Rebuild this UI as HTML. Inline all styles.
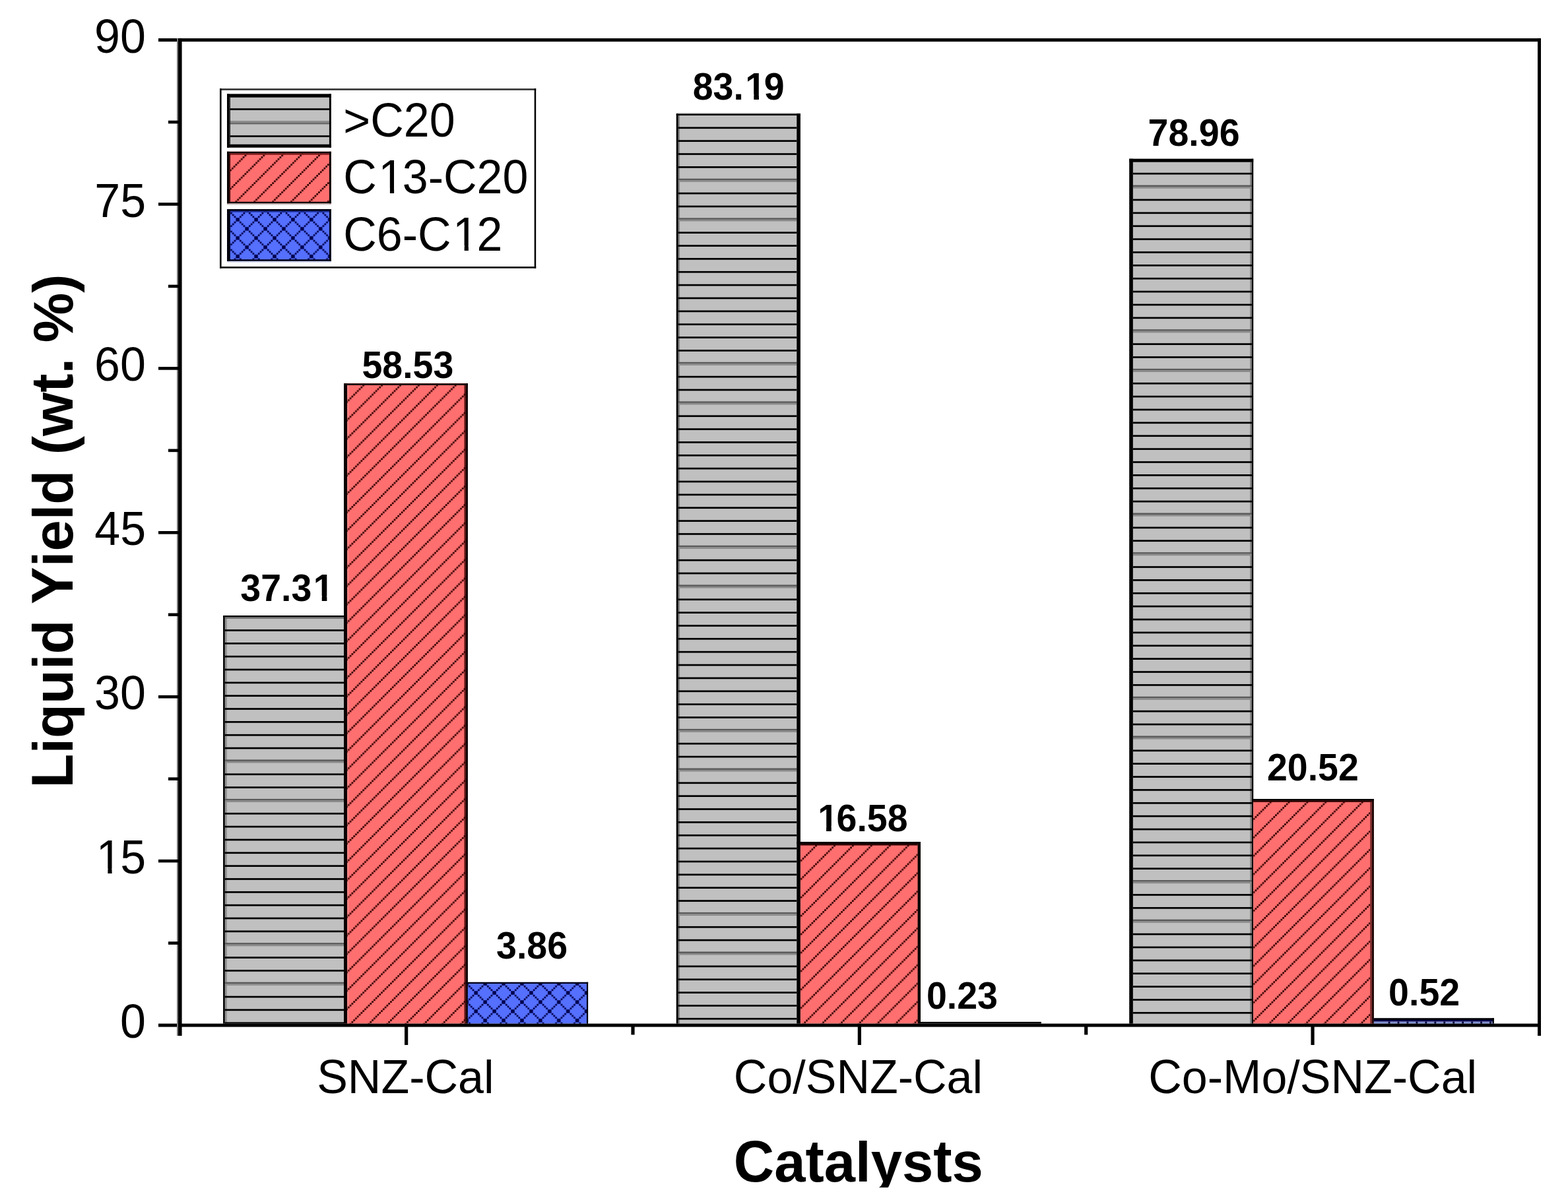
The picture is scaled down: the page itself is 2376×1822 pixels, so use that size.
<!DOCTYPE html>
<html><head><meta charset="utf-8"><title>Liquid Yield</title>
<style>
html,body{margin:0;padding:0;background:#fff;}
svg{display:block}
text{font-family:"Liberation Sans",Arial,sans-serif;fill:#000;font-kerning:none;}
</style></head><body>
<svg xmlns="http://www.w3.org/2000/svg" width="2376" height="1822" viewBox="0 0 2376 1822">
<defs><pattern id="p1" patternUnits="userSpaceOnUse" x="19.34" y="0.00" width="27.89" height="27.89"><g fill="#340000"><rect x="0.02" y="25.12" width="2.75" height="2.75"/><rect x="2.81" y="22.33" width="2.75" height="2.75"/><rect x="5.60" y="19.54" width="2.75" height="2.75"/><rect x="8.39" y="16.75" width="2.75" height="2.75"/><rect x="11.18" y="13.96" width="2.75" height="2.75"/><rect x="13.96" y="11.18" width="2.75" height="2.75"/><rect x="16.75" y="8.39" width="2.75" height="2.75"/><rect x="19.54" y="5.60" width="2.75" height="2.75"/><rect x="22.33" y="2.81" width="2.75" height="2.75"/><rect x="25.12" y="0.02" width="2.75" height="2.75"/></g></pattern><pattern id="p2" patternUnits="userSpaceOnUse" x="23.70" y="26.30" width="27.9" height="27.9"><g fill="#00004a"><rect x="0.02" y="25.13" width="2.75" height="2.75"/><rect x="0.02" y="0.02" width="2.75" height="2.75"/><rect x="2.81" y="22.34" width="2.75" height="2.75"/><rect x="2.81" y="2.81" width="2.75" height="2.75"/><rect x="5.60" y="19.55" width="2.75" height="2.75"/><rect x="5.60" y="5.60" width="2.75" height="2.75"/><rect x="8.39" y="16.76" width="2.75" height="2.75"/><rect x="8.39" y="8.39" width="2.75" height="2.75"/><rect x="11.18" y="13.97" width="2.75" height="2.75"/><rect x="11.18" y="11.18" width="2.75" height="2.75"/><rect x="13.97" y="11.18" width="2.75" height="2.75"/><rect x="13.97" y="13.97" width="2.75" height="2.75"/><rect x="16.76" y="8.39" width="2.75" height="2.75"/><rect x="16.76" y="16.76" width="2.75" height="2.75"/><rect x="19.55" y="5.60" width="2.75" height="2.75"/><rect x="19.55" y="19.55" width="2.75" height="2.75"/><rect x="22.34" y="2.81" width="2.75" height="2.75"/><rect x="22.34" y="22.34" width="2.75" height="2.75"/><rect x="25.13" y="0.02" width="2.75" height="2.75"/><rect x="25.13" y="25.13" width="2.75" height="2.75"/></g></pattern><pattern id="p3" patternUnits="userSpaceOnUse" x="7.50" y="0.00" width="27.9" height="27.9"><g fill="#340000"><rect x="0.02" y="25.13" width="2.75" height="2.75"/><rect x="2.81" y="22.34" width="2.75" height="2.75"/><rect x="5.60" y="19.55" width="2.75" height="2.75"/><rect x="8.39" y="16.76" width="2.75" height="2.75"/><rect x="11.18" y="13.97" width="2.75" height="2.75"/><rect x="13.97" y="11.18" width="2.75" height="2.75"/><rect x="16.76" y="8.39" width="2.75" height="2.75"/><rect x="19.55" y="5.60" width="2.75" height="2.75"/><rect x="22.34" y="2.81" width="2.75" height="2.75"/><rect x="25.13" y="0.02" width="2.75" height="2.75"/></g></pattern><pattern id="p4" patternUnits="userSpaceOnUse" x="0.00" y="0.00" width="27.8" height="27.8"><g fill="#340000"><rect x="0.02" y="25.04" width="2.75" height="2.75"/><rect x="2.79" y="22.26" width="2.75" height="2.75"/><rect x="5.58" y="19.48" width="2.75" height="2.75"/><rect x="8.36" y="16.70" width="2.75" height="2.75"/><rect x="11.14" y="13.91" width="2.75" height="2.75"/><rect x="13.92" y="11.13" width="2.75" height="2.75"/><rect x="16.70" y="8.36" width="2.75" height="2.75"/><rect x="19.48" y="5.57" width="2.75" height="2.75"/><rect x="22.26" y="2.79" width="2.75" height="2.75"/><rect x="25.04" y="0.01" width="2.75" height="2.75"/></g></pattern><clipPath id="t5"><path clip-rule="evenodd" d="M-3000 -3000H5000V5000H-3000ZM147.90 1316.64H163.37V1325.60H147.90ZM169.60 1316.64H183.95V1325.60H169.60Z"/></clipPath><clipPath id="t6"><path clip-rule="evenodd" d="M-3000 -3000H5000V5000H-3000ZM476.47 903.04H487.74V912.40H476.47ZM495.40 903.04H505.06V912.40H495.40Z"/></clipPath><clipPath id="t7"><path clip-rule="evenodd" d="M-3000 -3000H5000V5000H-3000ZM1131.02 142.64H1142.29V152.00H1131.02ZM1149.95 142.64H1159.60V152.00H1149.95Z"/></clipPath><clipPath id="t8"><path clip-rule="evenodd" d="M-3000 -3000H5000V5000H-3000ZM1240.83 1251.74H1252.09V1261.10H1240.83ZM1259.75 1251.74H1269.41V1261.10H1259.75Z"/></clipPath><pattern id="p9" patternUnits="userSpaceOnUse" x="21.70" y="0.00" width="27.9" height="27.9"><g fill="#340000"><rect x="0.02" y="25.13" width="2.75" height="2.75"/><rect x="2.81" y="22.34" width="2.75" height="2.75"/><rect x="5.60" y="19.55" width="2.75" height="2.75"/><rect x="8.39" y="16.76" width="2.75" height="2.75"/><rect x="11.18" y="13.97" width="2.75" height="2.75"/><rect x="13.97" y="11.18" width="2.75" height="2.75"/><rect x="16.76" y="8.39" width="2.75" height="2.75"/><rect x="19.55" y="5.60" width="2.75" height="2.75"/><rect x="22.34" y="2.81" width="2.75" height="2.75"/><rect x="25.13" y="0.02" width="2.75" height="2.75"/></g></pattern><pattern id="p10" patternUnits="userSpaceOnUse" x="25.40" y="26.00" width="27.9" height="27.9"><g fill="#00004a"><rect x="0.02" y="25.13" width="2.75" height="2.75"/><rect x="0.02" y="0.02" width="2.75" height="2.75"/><rect x="2.81" y="22.34" width="2.75" height="2.75"/><rect x="2.81" y="2.81" width="2.75" height="2.75"/><rect x="5.60" y="19.55" width="2.75" height="2.75"/><rect x="5.60" y="5.60" width="2.75" height="2.75"/><rect x="8.39" y="16.76" width="2.75" height="2.75"/><rect x="8.39" y="8.39" width="2.75" height="2.75"/><rect x="11.18" y="13.97" width="2.75" height="2.75"/><rect x="11.18" y="11.18" width="2.75" height="2.75"/><rect x="13.97" y="11.18" width="2.75" height="2.75"/><rect x="13.97" y="13.97" width="2.75" height="2.75"/><rect x="16.76" y="8.39" width="2.75" height="2.75"/><rect x="16.76" y="16.76" width="2.75" height="2.75"/><rect x="19.55" y="5.60" width="2.75" height="2.75"/><rect x="19.55" y="19.55" width="2.75" height="2.75"/><rect x="22.34" y="2.81" width="2.75" height="2.75"/><rect x="22.34" y="22.34" width="2.75" height="2.75"/><rect x="25.13" y="0.02" width="2.75" height="2.75"/><rect x="25.13" y="25.13" width="2.75" height="2.75"/></g></pattern><clipPath id="t11"><path clip-rule="evenodd" d="M-3000 -3000H5000V5000H-3000ZM575.42 285.74H590.89V294.70H575.42ZM597.12 285.74H611.47V294.70H597.12Z"/></clipPath><clipPath id="t12"><path clip-rule="evenodd" d="M-3000 -3000H5000V5000H-3000ZM688.21 372.04H703.68V381.00H688.21ZM709.91 372.04H724.26V381.00H709.91Z"/></clipPath></defs>
<rect width="2376" height="1822" fill="#fff"/>
<rect x="338.1" y="933" width="185.4" height="618.6" fill="#c0c0c0"/><rect x="340.7" y="935.1" width="3.1" height="616.5" fill="#909090"/><rect x="340.7" y="935.1" width="180.3" height="2.7" fill="#6a6a6a"/><rect x="340.7" y="954.15" width="180.3" height="2.7" fill="#000"/><rect x="340.7" y="973.99" width="180.3" height="2.7" fill="#000"/><rect x="340.7" y="993.83" width="180.3" height="2.7" fill="#000"/><rect x="340.7" y="1013.67" width="180.3" height="2.7" fill="#000"/><rect x="340.7" y="1033.51" width="180.3" height="2.7" fill="#000"/><rect x="340.7" y="1053.35" width="180.3" height="2.7" fill="#000"/><rect x="340.7" y="1073.19" width="180.3" height="2.7" fill="#000"/><rect x="340.7" y="1093.03" width="180.3" height="2.7" fill="#000"/><rect x="340.7" y="1112.87" width="180.3" height="2.7" fill="#000"/><rect x="340.7" y="1132.71" width="180.3" height="2.7" fill="#000"/><rect x="340.7" y="1151.4" width="180.3" height="2.5" fill="#5a5a5a"/><rect x="340.7" y="1153.9" width="180.3" height="2.6" fill="#8a8a8a"/><rect x="340.7" y="1172.39" width="180.3" height="2.7" fill="#000"/><rect x="340.7" y="1192.23" width="180.3" height="2.7" fill="#000"/><rect x="340.7" y="1210.92" width="180.3" height="2.5" fill="#5a5a5a"/><rect x="340.7" y="1213.42" width="180.3" height="2.6" fill="#8a8a8a"/><rect x="340.7" y="1231.91" width="180.3" height="2.7" fill="#000"/><rect x="340.7" y="1251.75" width="180.3" height="2.7" fill="#000"/><rect x="340.7" y="1271.59" width="180.3" height="2.7" fill="#000"/><rect x="340.7" y="1291.43" width="180.3" height="2.7" fill="#000"/><rect x="340.7" y="1311.27" width="180.3" height="2.7" fill="#000"/><rect x="340.7" y="1331.11" width="180.3" height="2.7" fill="#000"/><rect x="340.7" y="1350.95" width="180.3" height="2.7" fill="#000"/><rect x="340.7" y="1370.79" width="180.3" height="2.7" fill="#000"/><rect x="340.7" y="1390.63" width="180.3" height="2.7" fill="#000"/><rect x="340.7" y="1410.47" width="180.3" height="2.7" fill="#000"/><rect x="340.7" y="1429.16" width="180.3" height="2.5" fill="#5a5a5a"/><rect x="340.7" y="1431.66" width="180.3" height="2.6" fill="#8a8a8a"/><rect x="340.7" y="1450.15" width="180.3" height="2.7" fill="#000"/><rect x="340.7" y="1469.99" width="180.3" height="2.7" fill="#000"/><rect x="340.7" y="1488.68" width="180.3" height="2.5" fill="#5a5a5a"/><rect x="340.7" y="1491.18" width="180.3" height="2.6" fill="#8a8a8a"/><rect x="340.7" y="1509.67" width="180.3" height="2.7" fill="#000"/><rect x="340.7" y="1529.51" width="180.3" height="2.7" fill="#000"/><rect x="340.7" y="1549.35" width="180.3" height="2.25" fill="#000"/><rect x="338.1" y="933" width="2.6" height="618.6" fill="#000"/><rect x="338.1" y="933" width="182.9" height="2.1" fill="#000"/><rect x="521" y="581.2" width="187.9" height="970.4" fill="#ff6f6f"/><rect x="526" y="583.9" width="2.6" height="967.7" fill="#f48585"/><rect x="703.5" y="583.9" width="2.7" height="967.7" fill="#5a1414"/><rect x="526" y="583.9" width="180.2" height="967.7" fill="url(#p1)"/><rect x="521" y="581.2" width="5" height="970.4" fill="#0c0000"/><rect x="521" y="581.2" width="187.9" height="2.7" fill="#120000"/><rect x="706.2" y="581.2" width="2.7" height="970.4" fill="#000"/><rect x="708.9" y="1488.8" width="182.2" height="62.8" fill="#5570ff"/><rect x="708.9" y="1491" width="180.1" height="60.6" fill="url(#p2)"/><rect x="706.2" y="1488.8" width="184.9" height="2.2" fill="#000010"/><rect x="889" y="1488.8" width="2.1" height="62.8" fill="#000"/><rect x="1024.8" y="170.6" width="188.1" height="1.8" fill="#dadada"/><rect x="1024.8" y="172.4" width="188.1" height="1379.2" fill="#c0c0c0"/><rect x="1027.6" y="175" width="2.2" height="1376.6" fill="#7a7a7a"/><rect x="1027.6" y="192.45" width="179.7" height="2.7" fill="#000"/><rect x="1027.6" y="212.31" width="179.7" height="2.7" fill="#000"/><rect x="1027.6" y="232.17" width="179.7" height="2.7" fill="#000"/><rect x="1027.6" y="252.03" width="179.7" height="2.7" fill="#000"/><rect x="1027.6" y="270.74" width="179.7" height="2.5" fill="#5a5a5a"/><rect x="1027.6" y="273.24" width="179.7" height="2.6" fill="#8a8a8a"/><rect x="1027.6" y="291.75" width="179.7" height="2.7" fill="#000"/><rect x="1027.6" y="311.61" width="179.7" height="2.7" fill="#000"/><rect x="1027.6" y="330.32" width="179.7" height="2.5" fill="#5a5a5a"/><rect x="1027.6" y="332.82" width="179.7" height="2.6" fill="#8a8a8a"/><rect x="1027.6" y="351.33" width="179.7" height="2.7" fill="#000"/><rect x="1027.6" y="371.19" width="179.7" height="2.7" fill="#000"/><rect x="1027.6" y="391.05" width="179.7" height="2.7" fill="#000"/><rect x="1027.6" y="410.91" width="179.7" height="2.7" fill="#000"/><rect x="1027.6" y="430.77" width="179.7" height="2.7" fill="#000"/><rect x="1027.6" y="450.63" width="179.7" height="2.7" fill="#000"/><rect x="1027.6" y="470.49" width="179.7" height="2.7" fill="#000"/><rect x="1027.6" y="490.35" width="179.7" height="2.7" fill="#000"/><rect x="1027.6" y="510.21" width="179.7" height="2.7" fill="#000"/><rect x="1027.6" y="530.07" width="179.7" height="2.7" fill="#000"/><rect x="1027.6" y="548.78" width="179.7" height="2.5" fill="#5a5a5a"/><rect x="1027.6" y="551.28" width="179.7" height="2.6" fill="#8a8a8a"/><rect x="1027.6" y="569.79" width="179.7" height="2.7" fill="#000"/><rect x="1027.6" y="589.65" width="179.7" height="2.7" fill="#000"/><rect x="1027.6" y="608.36" width="179.7" height="2.5" fill="#5a5a5a"/><rect x="1027.6" y="610.86" width="179.7" height="2.6" fill="#8a8a8a"/><rect x="1027.6" y="629.37" width="179.7" height="2.7" fill="#000"/><rect x="1027.6" y="649.23" width="179.7" height="2.7" fill="#000"/><rect x="1027.6" y="669.09" width="179.7" height="2.7" fill="#000"/><rect x="1027.6" y="688.95" width="179.7" height="2.7" fill="#000"/><rect x="1027.6" y="708.81" width="179.7" height="2.7" fill="#000"/><rect x="1027.6" y="728.67" width="179.7" height="2.7" fill="#000"/><rect x="1027.6" y="748.53" width="179.7" height="2.7" fill="#000"/><rect x="1027.6" y="768.39" width="179.7" height="2.7" fill="#000"/><rect x="1027.6" y="788.25" width="179.7" height="2.7" fill="#000"/><rect x="1027.6" y="808.11" width="179.7" height="2.7" fill="#000"/><rect x="1027.6" y="826.82" width="179.7" height="2.5" fill="#5a5a5a"/><rect x="1027.6" y="829.32" width="179.7" height="2.6" fill="#8a8a8a"/><rect x="1027.6" y="847.83" width="179.7" height="2.7" fill="#000"/><rect x="1027.6" y="867.69" width="179.7" height="2.7" fill="#000"/><rect x="1027.6" y="886.4" width="179.7" height="2.5" fill="#5a5a5a"/><rect x="1027.6" y="888.9" width="179.7" height="2.6" fill="#8a8a8a"/><rect x="1027.6" y="907.41" width="179.7" height="2.7" fill="#000"/><rect x="1027.6" y="927.27" width="179.7" height="2.7" fill="#000"/><rect x="1027.6" y="947.13" width="179.7" height="2.7" fill="#000"/><rect x="1027.6" y="966.99" width="179.7" height="2.7" fill="#000"/><rect x="1027.6" y="986.85" width="179.7" height="2.7" fill="#000"/><rect x="1027.6" y="1006.71" width="179.7" height="2.7" fill="#000"/><rect x="1027.6" y="1026.57" width="179.7" height="2.7" fill="#000"/><rect x="1027.6" y="1046.43" width="179.7" height="2.7" fill="#000"/><rect x="1027.6" y="1066.29" width="179.7" height="2.7" fill="#000"/><rect x="1027.6" y="1086.15" width="179.7" height="2.7" fill="#000"/><rect x="1027.6" y="1104.86" width="179.7" height="2.5" fill="#5a5a5a"/><rect x="1027.6" y="1107.36" width="179.7" height="2.6" fill="#8a8a8a"/><rect x="1027.6" y="1125.87" width="179.7" height="2.7" fill="#000"/><rect x="1027.6" y="1145.73" width="179.7" height="2.7" fill="#000"/><rect x="1027.6" y="1164.44" width="179.7" height="2.5" fill="#5a5a5a"/><rect x="1027.6" y="1166.94" width="179.7" height="2.6" fill="#8a8a8a"/><rect x="1027.6" y="1185.45" width="179.7" height="2.7" fill="#000"/><rect x="1027.6" y="1205.31" width="179.7" height="2.7" fill="#000"/><rect x="1027.6" y="1225.17" width="179.7" height="2.7" fill="#000"/><rect x="1027.6" y="1245.03" width="179.7" height="2.7" fill="#000"/><rect x="1027.6" y="1264.89" width="179.7" height="2.7" fill="#000"/><rect x="1027.6" y="1284.75" width="179.7" height="2.7" fill="#000"/><rect x="1027.6" y="1304.61" width="179.7" height="2.7" fill="#000"/><rect x="1027.6" y="1324.47" width="179.7" height="2.7" fill="#000"/><rect x="1027.6" y="1344.33" width="179.7" height="2.7" fill="#000"/><rect x="1027.6" y="1364.19" width="179.7" height="2.7" fill="#000"/><rect x="1027.6" y="1382.9" width="179.7" height="2.5" fill="#5a5a5a"/><rect x="1027.6" y="1385.4" width="179.7" height="2.6" fill="#8a8a8a"/><rect x="1027.6" y="1403.91" width="179.7" height="2.7" fill="#000"/><rect x="1027.6" y="1423.77" width="179.7" height="2.7" fill="#000"/><rect x="1027.6" y="1442.48" width="179.7" height="2.5" fill="#5a5a5a"/><rect x="1027.6" y="1444.98" width="179.7" height="2.6" fill="#8a8a8a"/><rect x="1027.6" y="1463.49" width="179.7" height="2.7" fill="#000"/><rect x="1027.6" y="1483.35" width="179.7" height="2.7" fill="#000"/><rect x="1027.6" y="1503.21" width="179.7" height="2.7" fill="#000"/><rect x="1027.6" y="1523.07" width="179.7" height="2.7" fill="#000"/><rect x="1027.6" y="1542.93" width="179.7" height="2.7" fill="#000"/><rect x="1024.8" y="172.4" width="2.8" height="1379.2" fill="#000"/><rect x="1024.8" y="172.4" width="188.1" height="2.6" fill="#000"/><rect x="1207.3" y="172.4" width="5.6" height="1379.2" fill="#000"/><rect x="1212.9" y="1276" width="182.1" height="275.6" fill="#ff6f6f"/><rect x="1212.9" y="1279" width="177.7" height="272.6" fill="url(#p3)"/><rect x="1212.9" y="1279" width="177.7" height="2.5" fill="#2a0000"/><rect x="1207.3" y="1276" width="187.7" height="3" fill="#080000"/><rect x="1390.6" y="1276" width="4.4" height="275.6" fill="#060000"/><rect x="1395" y="1548.9" width="182.8" height="2.7" fill="#000"/><rect x="1711.2" y="240.7" width="188" height="1310.9" fill="#c0c0c0"/><rect x="1894.2" y="245.7" width="2.7" height="1305.9" fill="#808080"/><rect x="1716.8" y="261.85" width="180.1" height="2.7" fill="#000"/><rect x="1716.8" y="280.58" width="180.1" height="2.5" fill="#5a5a5a"/><rect x="1716.8" y="283.08" width="180.1" height="2.6" fill="#8a8a8a"/><rect x="1716.8" y="301.6" width="180.1" height="2.7" fill="#000"/><rect x="1716.8" y="321.48" width="180.1" height="2.7" fill="#000"/><rect x="1716.8" y="341.36" width="180.1" height="2.7" fill="#000"/><rect x="1716.8" y="361.24" width="180.1" height="2.7" fill="#000"/><rect x="1716.8" y="381.11" width="180.1" height="2.7" fill="#000"/><rect x="1716.8" y="400.99" width="180.1" height="2.7" fill="#000"/><rect x="1716.8" y="420.87" width="180.1" height="2.7" fill="#000"/><rect x="1716.8" y="440.74" width="180.1" height="2.7" fill="#000"/><rect x="1716.8" y="460.62" width="180.1" height="2.7" fill="#000"/><rect x="1716.8" y="480.5" width="180.1" height="2.7" fill="#000"/><rect x="1716.8" y="499.22" width="180.1" height="2.5" fill="#5a5a5a"/><rect x="1716.8" y="501.72" width="180.1" height="2.6" fill="#8a8a8a"/><rect x="1716.8" y="520.25" width="180.1" height="2.7" fill="#000"/><rect x="1716.8" y="540.13" width="180.1" height="2.7" fill="#000"/><rect x="1716.8" y="558.86" width="180.1" height="2.5" fill="#5a5a5a"/><rect x="1716.8" y="561.36" width="180.1" height="2.6" fill="#8a8a8a"/><rect x="1716.8" y="579.88" width="180.1" height="2.7" fill="#000"/><rect x="1716.8" y="599.76" width="180.1" height="2.7" fill="#000"/><rect x="1716.8" y="619.64" width="180.1" height="2.7" fill="#000"/><rect x="1716.8" y="639.51" width="180.1" height="2.7" fill="#000"/><rect x="1716.8" y="659.39" width="180.1" height="2.7" fill="#000"/><rect x="1716.8" y="679.27" width="180.1" height="2.7" fill="#000"/><rect x="1716.8" y="699.14" width="180.1" height="2.7" fill="#000"/><rect x="1716.8" y="719.02" width="180.1" height="2.7" fill="#000"/><rect x="1716.8" y="738.9" width="180.1" height="2.7" fill="#000"/><rect x="1716.8" y="758.77" width="180.1" height="2.7" fill="#000"/><rect x="1716.8" y="777.5" width="180.1" height="2.5" fill="#5a5a5a"/><rect x="1716.8" y="780" width="180.1" height="2.6" fill="#8a8a8a"/><rect x="1716.8" y="798.53" width="180.1" height="2.7" fill="#000"/><rect x="1716.8" y="818.41" width="180.1" height="2.7" fill="#000"/><rect x="1716.8" y="837.13" width="180.1" height="2.5" fill="#5a5a5a"/><rect x="1716.8" y="839.63" width="180.1" height="2.6" fill="#8a8a8a"/><rect x="1716.8" y="858.16" width="180.1" height="2.7" fill="#000"/><rect x="1716.8" y="878.04" width="180.1" height="2.7" fill="#000"/><rect x="1716.8" y="897.91" width="180.1" height="2.7" fill="#000"/><rect x="1716.8" y="917.79" width="180.1" height="2.7" fill="#000"/><rect x="1716.8" y="937.67" width="180.1" height="2.7" fill="#000"/><rect x="1716.8" y="957.54" width="180.1" height="2.7" fill="#000"/><rect x="1716.8" y="977.42" width="180.1" height="2.7" fill="#000"/><rect x="1716.8" y="997.3" width="180.1" height="2.7" fill="#000"/><rect x="1716.8" y="1017.18" width="180.1" height="2.7" fill="#000"/><rect x="1716.8" y="1037.05" width="180.1" height="2.7" fill="#000"/><rect x="1716.8" y="1055.78" width="180.1" height="2.5" fill="#5a5a5a"/><rect x="1716.8" y="1058.28" width="180.1" height="2.6" fill="#8a8a8a"/><rect x="1716.8" y="1076.81" width="180.1" height="2.7" fill="#000"/><rect x="1716.8" y="1096.68" width="180.1" height="2.7" fill="#000"/><rect x="1716.8" y="1115.41" width="180.1" height="2.5" fill="#5a5a5a"/><rect x="1716.8" y="1117.91" width="180.1" height="2.6" fill="#8a8a8a"/><rect x="1716.8" y="1136.44" width="180.1" height="2.7" fill="#000"/><rect x="1716.8" y="1156.31" width="180.1" height="2.7" fill="#000"/><rect x="1716.8" y="1176.19" width="180.1" height="2.7" fill="#000"/><rect x="1716.8" y="1196.07" width="180.1" height="2.7" fill="#000"/><rect x="1716.8" y="1215.95" width="180.1" height="2.7" fill="#000"/><rect x="1716.8" y="1235.82" width="180.1" height="2.7" fill="#000"/><rect x="1716.8" y="1255.7" width="180.1" height="2.7" fill="#000"/><rect x="1716.8" y="1275.58" width="180.1" height="2.7" fill="#000"/><rect x="1716.8" y="1295.45" width="180.1" height="2.7" fill="#000"/><rect x="1716.8" y="1315.33" width="180.1" height="2.7" fill="#000"/><rect x="1716.8" y="1334.06" width="180.1" height="2.5" fill="#5a5a5a"/><rect x="1716.8" y="1336.56" width="180.1" height="2.6" fill="#8a8a8a"/><rect x="1716.8" y="1355.08" width="180.1" height="2.7" fill="#000"/><rect x="1716.8" y="1374.96" width="180.1" height="2.7" fill="#000"/><rect x="1716.8" y="1393.69" width="180.1" height="2.5" fill="#5a5a5a"/><rect x="1716.8" y="1396.19" width="180.1" height="2.6" fill="#8a8a8a"/><rect x="1716.8" y="1414.72" width="180.1" height="2.7" fill="#000"/><rect x="1716.8" y="1434.59" width="180.1" height="2.7" fill="#000"/><rect x="1716.8" y="1454.47" width="180.1" height="2.7" fill="#000"/><rect x="1716.8" y="1474.35" width="180.1" height="2.7" fill="#000"/><rect x="1716.8" y="1494.22" width="180.1" height="2.7" fill="#000"/><rect x="1716.8" y="1514.1" width="180.1" height="2.7" fill="#000"/><rect x="1716.8" y="1533.98" width="180.1" height="2.7" fill="#000"/><rect x="1711.2" y="240.7" width="5.6" height="1310.9" fill="#000"/><rect x="1711.2" y="240.7" width="188" height="5" fill="#000"/><rect x="1896.9" y="240.7" width="2.3" height="1310.9" fill="#000"/><rect x="1899.2" y="1211" width="182.6" height="340.6" fill="#ff6f6f"/><rect x="2076.2" y="1215.8" width="3" height="335.8" fill="#7a2c2c"/><rect x="1899.2" y="1213.8" width="177" height="337.8" fill="url(#p4)"/><rect x="1899.2" y="1213.8" width="180" height="2" fill="#2a0000"/><rect x="1896.9" y="1211" width="184.9" height="2.8" fill="#060000"/><rect x="2079.2" y="1211" width="2.6" height="340.6" fill="#0a0000"/><rect x="2081.8" y="1548.5" width="182" height="3.1" fill="#7f8fd2"/><rect x="2103.7" y="1548.5" width="2.7" height="3.1" fill="#000030"/><rect x="2117.65" y="1548.5" width="2.7" height="3.1" fill="#000030"/><rect x="2131.6" y="1548.5" width="2.7" height="3.1" fill="#000030"/><rect x="2145.55" y="1548.5" width="2.7" height="3.1" fill="#000030"/><rect x="2159.5" y="1548.5" width="2.7" height="3.1" fill="#000030"/><rect x="2173.45" y="1548.5" width="2.7" height="3.1" fill="#000030"/><rect x="2187.4" y="1548.5" width="2.7" height="3.1" fill="#000030"/><rect x="2201.35" y="1548.5" width="2.7" height="3.1" fill="#000030"/><rect x="2215.3" y="1548.5" width="2.7" height="3.1" fill="#000030"/><rect x="2229.25" y="1548.5" width="2.7" height="3.1" fill="#000030"/><rect x="2243.2" y="1548.5" width="2.7" height="3.1" fill="#000030"/><rect x="2257.15" y="1548.5" width="2.7" height="3.1" fill="#000030"/><rect x="2081.8" y="1546" width="182" height="2.5" fill="#00004a"/><rect x="2081.8" y="1543.2" width="182" height="2.8" fill="#000008"/><rect x="2261.6" y="1543.2" width="2.2" height="8.4" fill="#000"/>
<g fill="#000"><rect x="240" y="58.1" width="2095" height="5"/><rect x="240" y="1551.6" width="2095" height="5"/><rect x="270" y="58.1" width="5.6" height="1512"/><rect x="268" y="58.1" width="2" height="1512" fill="#7a7a7a"/><rect x="2330" y="58.1" width="5" height="1512"/><rect x="240" y="1302.8" width="32" height="4.6"/><rect x="240" y="1053.9" width="32" height="4.6"/><rect x="240" y="805" width="32" height="4.6"/><rect x="240" y="556.1" width="32" height="4.6"/><rect x="240" y="307.2" width="32" height="4.6"/><rect x="255" y="1427.25" width="17" height="4.6"/><rect x="255" y="1178.35" width="17" height="4.6"/><rect x="255" y="929.45" width="17" height="4.6"/><rect x="255" y="680.55" width="17" height="4.6"/><rect x="255" y="431.65" width="17" height="4.6"/><rect x="255" y="182.75" width="17" height="4.6"/><rect x="255" y="-66.15" width="17" height="4.6"/><rect x="255" y="-315.05" width="17" height="4.6"/><rect x="255" y="-563.95" width="17" height="4.6"/><rect x="255" y="-812.85" width="17" height="4.6"/><rect x="255" y="-1061.75" width="17" height="4.6"/><rect x="255" y="-1310.65" width="17" height="4.6"/><rect x="613.05" y="1554" width="5.2" height="30"/><rect x="956.4" y="1554" width="5.2" height="14.5"/><rect x="1299.75" y="1554" width="5.2" height="30"/><rect x="1643.1" y="1554" width="5.2" height="14.5"/><rect x="1986.45" y="1554" width="5.2" height="30"/></g>
<rect x="333" y="134.2" width="479.2" height="272.5" fill="#fff"/><rect x="333" y="134.2" width="479.2" height="2.6" fill="#303030"/><rect x="333" y="404.1" width="479.2" height="2.6" fill="#000"/><rect x="333" y="134.2" width="2.6" height="272.5" fill="#000"/><rect x="809.7" y="134.2" width="2.5" height="272.5" fill="#000"/><rect x="344" y="142.4" width="157.8" height="81.3" fill="#c0c0c0"/><rect x="347.3" y="164.2" width="151.6" height="2.8" fill="#000"/><rect x="347.3" y="183.1" width="151.6" height="2.7" fill="#8a8a8a"/><rect x="347.3" y="185.8" width="151.6" height="2.6" fill="#6a6a6a"/><rect x="347.3" y="205.2" width="151.6" height="2.6" fill="#000"/><rect x="344" y="142.4" width="157.8" height="5.3" fill="#000"/><rect x="344" y="218.8" width="157.8" height="4.9" fill="#000"/><rect x="344" y="142.4" width="3.3" height="81.3" fill="#000"/><rect x="347.3" y="147.7" width="1.7" height="71.1" fill="#1c1c1c"/><rect x="498.9" y="142.4" width="2.9" height="81.3" fill="#000"/><rect x="344" y="229.8" width="157.8" height="78.5" fill="#ff6f6f"/><rect x="344" y="308.3" width="157.8" height="2.4" fill="#d4caca"/><rect x="349" y="232.3" width="149.9" height="73.5" fill="url(#p9)"/><rect x="349" y="232.3" width="149.9" height="2.4" fill="#7a1a1a"/><rect x="344" y="229.8" width="157.8" height="2.5" fill="#0a0000"/><rect x="344" y="305.8" width="157.8" height="2.5" fill="#120000"/><rect x="344" y="229.8" width="3.3" height="78.5" fill="#060000"/><rect x="347.3" y="232.3" width="1.7" height="73.5" fill="#2a0000"/><rect x="498.9" y="229.8" width="2.9" height="78.5" fill="#0a0000"/><rect x="344" y="317" width="157.8" height="78.8" fill="#5570ff"/><rect x="344" y="395.8" width="157.8" height="2.5" fill="#d8dcf0"/><rect x="348.8" y="319.7" width="150.1" height="73.5" fill="url(#p10)"/><rect x="348.8" y="319.7" width="150.1" height="1.9" fill="#1a2a90"/><rect x="344" y="317" width="157.8" height="2.7" fill="#000010"/><rect x="344" y="393.2" width="157.8" height="2.6" fill="#000018"/><rect x="344" y="317" width="4.8" height="78.8" fill="#00000c"/><rect x="498.9" y="317" width="2.9" height="78.8" fill="#000010"/><text x="520.35 561.23 611.78 650.71" y="207.20" font-size="70" font-weight="normal">&gt;<tspan font-size="72.80" textLength="50.55" lengthAdjust="spacingAndGlyphs">C</tspan><tspan font-size="72.80" textLength="38.93" lengthAdjust="spacingAndGlyphs">2</tspan><tspan font-size="72.80" textLength="38.93" lengthAdjust="spacingAndGlyphs">0</tspan></text><text x="520.25 573.32 609.73 648.66 671.97 722.52 761.45" y="293.20" font-size="70" font-weight="normal" clip-path="url(#t11)"><tspan font-size="72.80" textLength="50.55" lengthAdjust="spacingAndGlyphs">C</tspan><tspan font-size="72.80" textLength="38.93" lengthAdjust="spacingAndGlyphs">1</tspan><tspan font-size="72.80" textLength="38.93" lengthAdjust="spacingAndGlyphs">3</tspan>-<tspan font-size="72.80" textLength="50.55" lengthAdjust="spacingAndGlyphs">C</tspan><tspan font-size="72.80" textLength="38.93" lengthAdjust="spacingAndGlyphs">2</tspan><tspan font-size="72.80" textLength="38.93" lengthAdjust="spacingAndGlyphs">0</tspan></text><text x="520.25 570.80 609.73 633.04 686.11 722.52" y="379.50" font-size="70" font-weight="normal" clip-path="url(#t12)"><tspan font-size="72.80" textLength="50.55" lengthAdjust="spacingAndGlyphs">C</tspan><tspan font-size="72.80" textLength="38.93" lengthAdjust="spacingAndGlyphs">6</tspan>-<tspan font-size="72.80" textLength="50.55" lengthAdjust="spacingAndGlyphs">C</tspan><tspan font-size="72.80" textLength="38.93" lengthAdjust="spacingAndGlyphs">1</tspan><tspan font-size="72.80" textLength="38.93" lengthAdjust="spacingAndGlyphs">2</tspan></text>
<text x="182.00" y="1573.00" font-size="70" font-weight="normal"><tspan font-size="72.80" textLength="38.93" lengthAdjust="spacingAndGlyphs">0</tspan></text><text x="145.80 182.21" y="1324.10" font-size="70" font-weight="normal" clip-path="url(#t5)"><tspan font-size="72.80" textLength="38.93" lengthAdjust="spacingAndGlyphs">1</tspan><tspan font-size="72.80" textLength="38.93" lengthAdjust="spacingAndGlyphs">5</tspan></text><text x="143.07 182.00" y="1075.20" font-size="70" font-weight="normal"><tspan font-size="72.80" textLength="38.93" lengthAdjust="spacingAndGlyphs">3</tspan><tspan font-size="72.80" textLength="38.93" lengthAdjust="spacingAndGlyphs">0</tspan></text><text x="143.28 182.21" y="826.30" font-size="70" font-weight="normal"><tspan font-size="72.80" textLength="38.93" lengthAdjust="spacingAndGlyphs">4</tspan><tspan font-size="72.80" textLength="38.93" lengthAdjust="spacingAndGlyphs">5</tspan></text><text x="143.07 182.00" y="577.40" font-size="70" font-weight="normal"><tspan font-size="72.80" textLength="38.93" lengthAdjust="spacingAndGlyphs">6</tspan><tspan font-size="72.80" textLength="38.93" lengthAdjust="spacingAndGlyphs">0</tspan></text><text x="143.28 182.21" y="328.50" font-size="70" font-weight="normal"><tspan font-size="72.80" textLength="38.93" lengthAdjust="spacingAndGlyphs">7</tspan><tspan font-size="72.80" textLength="38.93" lengthAdjust="spacingAndGlyphs">5</tspan></text><text x="143.07 182.00" y="79.60" font-size="70" font-weight="normal"><tspan font-size="72.80" textLength="38.93" lengthAdjust="spacingAndGlyphs">9</tspan><tspan font-size="72.80" textLength="38.93" lengthAdjust="spacingAndGlyphs">0</tspan></text><text x="480.18 526.87 577.42 620.18 643.49 694.04 732.97" y="1657.30" font-size="70" font-weight="normal"><tspan font-size="72.80" textLength="46.69" lengthAdjust="spacingAndGlyphs">S</tspan><tspan font-size="72.80" textLength="50.55" lengthAdjust="spacingAndGlyphs">N</tspan><tspan font-size="72.80" textLength="42.76" lengthAdjust="spacingAndGlyphs">Z</tspan>-<tspan font-size="72.80" textLength="50.55" lengthAdjust="spacingAndGlyphs">C</tspan>al</text><text x="1111.83 1162.38 1201.31 1220.76 1267.45 1318.00 1360.76 1384.07 1434.62 1473.55" y="1657.30" font-size="70" font-weight="normal"><tspan font-size="72.80" textLength="50.55" lengthAdjust="spacingAndGlyphs">C</tspan>o/<tspan font-size="72.80" textLength="46.69" lengthAdjust="spacingAndGlyphs">S</tspan><tspan font-size="72.80" textLength="50.55" lengthAdjust="spacingAndGlyphs">N</tspan><tspan font-size="72.80" textLength="42.76" lengthAdjust="spacingAndGlyphs">Z</tspan>-<tspan font-size="72.80" textLength="50.55" lengthAdjust="spacingAndGlyphs">C</tspan>al</text><text x="1740.30 1790.85 1829.78 1853.09 1911.40 1950.33 1969.78 2016.47 2067.02 2109.78 2133.09 2183.65 2222.58" y="1657.30" font-size="70" font-weight="normal"><tspan font-size="72.80" textLength="50.55" lengthAdjust="spacingAndGlyphs">C</tspan>o-<tspan font-size="72.80" textLength="58.31" lengthAdjust="spacingAndGlyphs">M</tspan>o/<tspan font-size="72.80" textLength="46.69" lengthAdjust="spacingAndGlyphs">S</tspan><tspan font-size="72.80" textLength="50.55" lengthAdjust="spacingAndGlyphs">N</tspan><tspan font-size="72.80" textLength="42.76" lengthAdjust="spacingAndGlyphs">Z</tspan>-<tspan font-size="72.80" textLength="50.55" lengthAdjust="spacingAndGlyphs">C</tspan>al</text><text x="364.29 395.16 426.03 441.45 474.81" y="910.90" font-size="55.5" font-weight="bold" clip-path="url(#t6)"><tspan font-size="57.44" textLength="30.87" lengthAdjust="spacingAndGlyphs">3</tspan><tspan font-size="57.44" textLength="30.87" lengthAdjust="spacingAndGlyphs">7</tspan>.<tspan font-size="57.44" textLength="30.87" lengthAdjust="spacingAndGlyphs">3</tspan><tspan font-size="57.44" textLength="30.87" lengthAdjust="spacingAndGlyphs">1</tspan></text><text x="548.41 579.27 610.14 625.56 656.43" y="572.80" font-size="55.5" font-weight="bold"><tspan font-size="57.44" textLength="30.87" lengthAdjust="spacingAndGlyphs">5</tspan><tspan font-size="57.44" textLength="30.87" lengthAdjust="spacingAndGlyphs">8</tspan>.<tspan font-size="57.44" textLength="30.87" lengthAdjust="spacingAndGlyphs">5</tspan><tspan font-size="57.44" textLength="30.87" lengthAdjust="spacingAndGlyphs">3</tspan></text><text x="752.06 782.92 798.34 829.21" y="1452.70" font-size="55.5" font-weight="bold"><tspan font-size="57.44" textLength="30.87" lengthAdjust="spacingAndGlyphs">3</tspan>.<tspan font-size="57.44" textLength="30.87" lengthAdjust="spacingAndGlyphs">8</tspan><tspan font-size="57.44" textLength="30.87" lengthAdjust="spacingAndGlyphs">6</tspan></text><text x="1049.71 1080.57 1111.44 1129.36 1157.73" y="150.50" font-size="55.5" font-weight="bold" clip-path="url(#t7)"><tspan font-size="57.44" textLength="30.87" lengthAdjust="spacingAndGlyphs">8</tspan><tspan font-size="57.44" textLength="30.87" lengthAdjust="spacingAndGlyphs">3</tspan>.<tspan font-size="57.44" textLength="30.87" lengthAdjust="spacingAndGlyphs">1</tspan><tspan font-size="57.44" textLength="30.87" lengthAdjust="spacingAndGlyphs">9</tspan></text><text x="1239.16 1267.53 1298.40 1313.82 1344.68" y="1259.60" font-size="55.5" font-weight="bold" clip-path="url(#t8)"><tspan font-size="57.44" textLength="30.87" lengthAdjust="spacingAndGlyphs">1</tspan><tspan font-size="57.44" textLength="30.87" lengthAdjust="spacingAndGlyphs">6</tspan>.<tspan font-size="57.44" textLength="30.87" lengthAdjust="spacingAndGlyphs">5</tspan><tspan font-size="57.44" textLength="30.87" lengthAdjust="spacingAndGlyphs">8</tspan></text><text x="1403.90 1434.76 1450.18 1481.05" y="1529.20" font-size="55.5" font-weight="bold"><tspan font-size="57.44" textLength="30.87" lengthAdjust="spacingAndGlyphs">0</tspan>.<tspan font-size="57.44" textLength="30.87" lengthAdjust="spacingAndGlyphs">2</tspan><tspan font-size="57.44" textLength="30.87" lengthAdjust="spacingAndGlyphs">3</tspan></text><text x="1739.62 1770.48 1801.35 1816.77 1847.64" y="220.90" font-size="55.5" font-weight="bold"><tspan font-size="57.44" textLength="30.87" lengthAdjust="spacingAndGlyphs">7</tspan><tspan font-size="57.44" textLength="30.87" lengthAdjust="spacingAndGlyphs">8</tspan>.<tspan font-size="57.44" textLength="30.87" lengthAdjust="spacingAndGlyphs">9</tspan><tspan font-size="57.44" textLength="30.87" lengthAdjust="spacingAndGlyphs">6</tspan></text><text x="1919.91 1950.77 1981.64 1997.06 2027.93" y="1183.20" font-size="55.5" font-weight="bold"><tspan font-size="57.44" textLength="30.87" lengthAdjust="spacingAndGlyphs">2</tspan><tspan font-size="57.44" textLength="30.87" lengthAdjust="spacingAndGlyphs">0</tspan>.<tspan font-size="57.44" textLength="30.87" lengthAdjust="spacingAndGlyphs">5</tspan><tspan font-size="57.44" textLength="30.87" lengthAdjust="spacingAndGlyphs">2</tspan></text><text x="2104.10 2134.97 2150.39 2181.26" y="1523.70" font-size="55.5" font-weight="bold"><tspan font-size="57.44" textLength="30.87" lengthAdjust="spacingAndGlyphs">0</tspan>.<tspan font-size="57.44" textLength="30.87" lengthAdjust="spacingAndGlyphs">5</tspan><tspan font-size="57.44" textLength="30.87" lengthAdjust="spacingAndGlyphs">2</tspan></text><text x="1111.86 1173.25 1220.52 1248.82 1296.10 1319.71 1366.99 1414.26 1442.57" y="1790.70" font-size="85" font-weight="bold"><tspan font-size="88.40" textLength="61.38" lengthAdjust="spacingAndGlyphs">C</tspan>a<tspan font-size="90.95" textLength="28.31" lengthAdjust="spacingAndGlyphs">t</tspan>alys<tspan font-size="90.95" textLength="28.31" lengthAdjust="spacingAndGlyphs">t</tspan>s</text><g transform="translate(110 1194.44) rotate(-90)"><text x="0.00 51.92 75.54 127.46 179.38 203.00 254.92 278.53 335.23 358.84 406.12 429.73 481.65 505.27 533.57 599.69 628.00 651.61 675.23 750.81" y="0.00" font-size="85" font-weight="bold"><tspan font-size="88.40" textLength="51.92" lengthAdjust="spacingAndGlyphs">L</tspan>iquid <tspan font-size="88.40" textLength="56.69" lengthAdjust="spacingAndGlyphs">Y</tspan>ield (w<tspan font-size="90.95" textLength="28.31" lengthAdjust="spacingAndGlyphs">t</tspan>. %)</text></g>
<rect x="0" y="1800" width="2376" height="22" fill="#fff"/>
</svg>
</body></html>
